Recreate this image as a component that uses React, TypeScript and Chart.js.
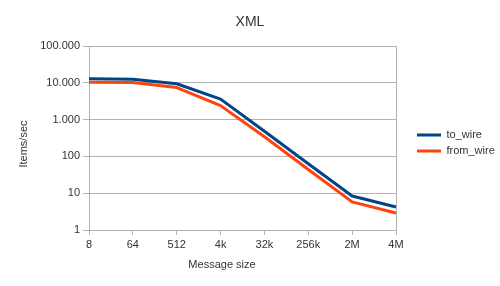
import React, { useEffect, useRef } from 'react';
import { Chart, registerables } from 'chart.js';

Chart.register(...registerables);

const categories = ['8', '64', '512', '4k', '32k', '256k', '2M', '4M'];
const toWire = [12800, 12500, 9400, 3600, 480, 63, 8.4, 4.2];
const fromWire = [10400, 10200, 7400, 2400, 340, 44, 5.8, 2.9];
const yTickValues = [1, 10, 100, 1000, 10000, 100000];
const seriesNames = ['to_wire', 'from_wire'];
const seriesColors = ['#004586', '#ff420e'];
const chartTitle = 'XML';
const xTitle = 'Message size';
const yTitle = 'Items/sec';

const FONT = '"Liberation Sans", Arial, sans-serif';
const TEXT = '#333333';
const GRID = '#b3b3b3';

function fmt(v: number): string {
  return String(v).replace(/\B(?=(\d{3})+(?!\d))/g, '.');
}

const axisTitles = {
  id: 'axisTitles',
  afterDraw(chart: any) {
    const { ctx } = chart;
    ctx.save();
    ctx.fillStyle = TEXT;
    ctx.font = `11px ${FONT}`;
    ctx.textAlign = 'center';
    ctx.textBaseline = 'middle';
    ctx.fillText(xTitle, 222, 265);
    ctx.translate(24, 144);
    ctx.rotate(-Math.PI / 2);
    ctx.fillText(yTitle, 0, 0);
    ctx.restore();
  },
};

export default function App() {
  const ref = useRef<HTMLCanvasElement | null>(null);

  useEffect(() => {
    if (!ref.current) return;
    Chart.defaults.font.family = FONT;
    const chart = new Chart(ref.current, {
      type: 'line',
      data: {
        labels: categories,
        datasets: [toWire, fromWire].map((d, i) => ({
          label: seriesNames[i],
          data: d,
          borderColor: seriesColors[i],
          backgroundColor: seriesColors[i],
          borderWidth: 3,
          pointRadius: 0,
          pointHoverRadius: 0,
          pointStyle: 'line',
          borderJoinStyle: 'round',
          tension: 0,
        })),
      },
      options: {
        responsive: false,
        animation: false,
        events: [],
        layout: { padding: 0 },
        plugins: {
          title: {
            display: true,
            text: chartTitle,
            color: TEXT,
            font: { size: 14, weight: 'normal', family: FONT },
            padding: { top: 14, bottom: 15.2 },
          },
          legend: {
            position: 'right',
            align: 'center',
            maxWidth: 88,
            labels: {
              usePointStyle: true,
              pointStyleWidth: 24,
              boxHeight: 11,
              padding: 5,
              color: TEXT,
              font: { size: 11, family: FONT },
            },
          },
          tooltip: { enabled: false },
        },
        scales: {
          x: {
            type: 'category',
            offset: false,
            grid: {
              color: (c: any) => (c.index === categories.length - 1 ? GRID : 'rgba(0,0,0,0)'),
              tickColor: GRID,
              tickLength: 5,
              lineWidth: 1,
            },
            border: { color: GRID },
            ticks: { color: TEXT, font: { size: 11 }, padding: 3, maxRotation: 0, autoSkip: false },
            afterFit: (s: any) => {
              s.height = 56;
            },
          },
          y: {
            type: 'logarithmic',
            min: 1,
            max: 100000,
            afterBuildTicks: (s: any) => {
              s.ticks = yTickValues.map((v) => ({ value: v }));
            },
            ticks: {
              callback: (v: any) => fmt(Number(v)),
              color: TEXT,
              font: { size: 11 },
              padding: 3,
            },
            grid: { color: GRID, tickColor: GRID, tickLength: 6, lineWidth: 1 },
            border: { color: GRID },
            afterFit: (s: any) => {
              s.width = 89;
            },
          },
          yPad: {
            type: 'linear',
            position: 'right',
            display: true,
            grid: { display: false, drawTicks: false },
            border: { display: false },
            ticks: { display: false },
            afterFit: (s: any) => {
              s.width = 16;
            },
          },
        },
      },
      plugins: [axisTitles],
    } as any);
    return () => chart.destroy();
  }, []);

  return (
    <div style={{ position: 'fixed', left: 0, top: 0, width: 500, height: 286, background: '#ffffff' }}>
      <canvas ref={ref} width={500} height={286} style={{ display: 'block' }} />
    </div>
  );
}
